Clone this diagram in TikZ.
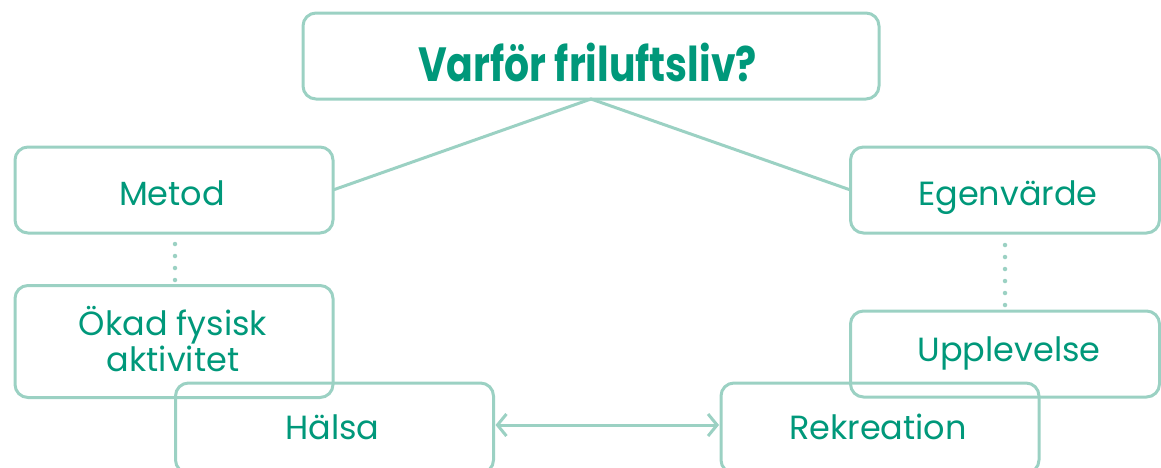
\documentclass[tikz,border=0pt]{standalone}
\usepackage{fontspec}
\setmainfont{Poppins}
\usetikzlibrary{arrows.meta}
\definecolor{edge}{RGB}{155,209,195}
\definecolor{ink}{RGB}{0,152,122}
\tikzset{
  box/.style={draw=edge, line width=3pt, rounded corners=13pt, rectangle, inner sep=0pt, outer sep=0pt, minimum width=318pt},
  lbl/.style={text=ink, font=\fontsize{33.5}{36.7}\selectfont, align=center, inner sep=0pt, anchor=base},
  conn/.style={draw=edge, line width=3pt},
  dots/.style={draw=edge, line width=4.5pt, line cap=round, dash pattern=on 0pt off 12pt},
}
\begin{document}
\begin{tikzpicture}[x=1pt,y=-1pt]
\useasboundingbox (0,0) rectangle (1161,467);
\clip (0,0) rectangle (1161,467);
% boxes
\node[box, minimum width=576pt, minimum height=86pt] (title) at (591,56) {};
\node[lbl, font=\fontsize{48}{52}\selectfont\bfseries] (titletext) at (587.5,81) {\scalebox{0.82}[1]{Varför friluftsliv?}};
\node[box, minimum height=86pt] (metod) at (174,190) {};
\node[lbl] (metodtext) at (172,205.7) {Metod};
\node[box, minimum height=112pt] (okad) at (174,341.5) {};
\node[lbl] (okadtext) at (173,371.7) {Ökad fysisk\\aktivitet};
\node[box, minimum width=309pt, minimum height=86pt] (egen) at (1005,190) {};
\node[lbl] (egentext) at (1008,205) {Egenvärde};
\node[box, minimum width=309pt, minimum height=86pt] (upp) at (1005,354) {};
\node[lbl] (upptext) at (1009,361.7) {Upplevelse};
\node[box, minimum height=90pt] (halsa) at (334.5,428) {};
\node[lbl] (halsatext) at (332.5,439) {Hälsa};
\node[box, minimum height=90pt] (rek) at (880,428) {};
\node[lbl] (rektext) at (878,439) {Rekreation};
% connectors
\draw[conn] (metod.east) -- (title.south) -- (egen.west);
\draw[dots] (metod.south -| 175,0) ++(0,11) -- (okad.north -| 175,0);
\draw[dots] (egen.south -| 1005,0) ++(0,12) -- (upp.north -| 1005,0);
\draw[conn, {Straight Barb[length=9pt,width=22pt,line width=3pt]}-{Straight Barb[length=9pt,width=22pt,line width=3pt]}] ([yshift=3pt,xshift=2pt]halsa.east) -- ([yshift=3pt,xshift=-2pt]rek.west);
\end{tikzpicture}
\end{document}
